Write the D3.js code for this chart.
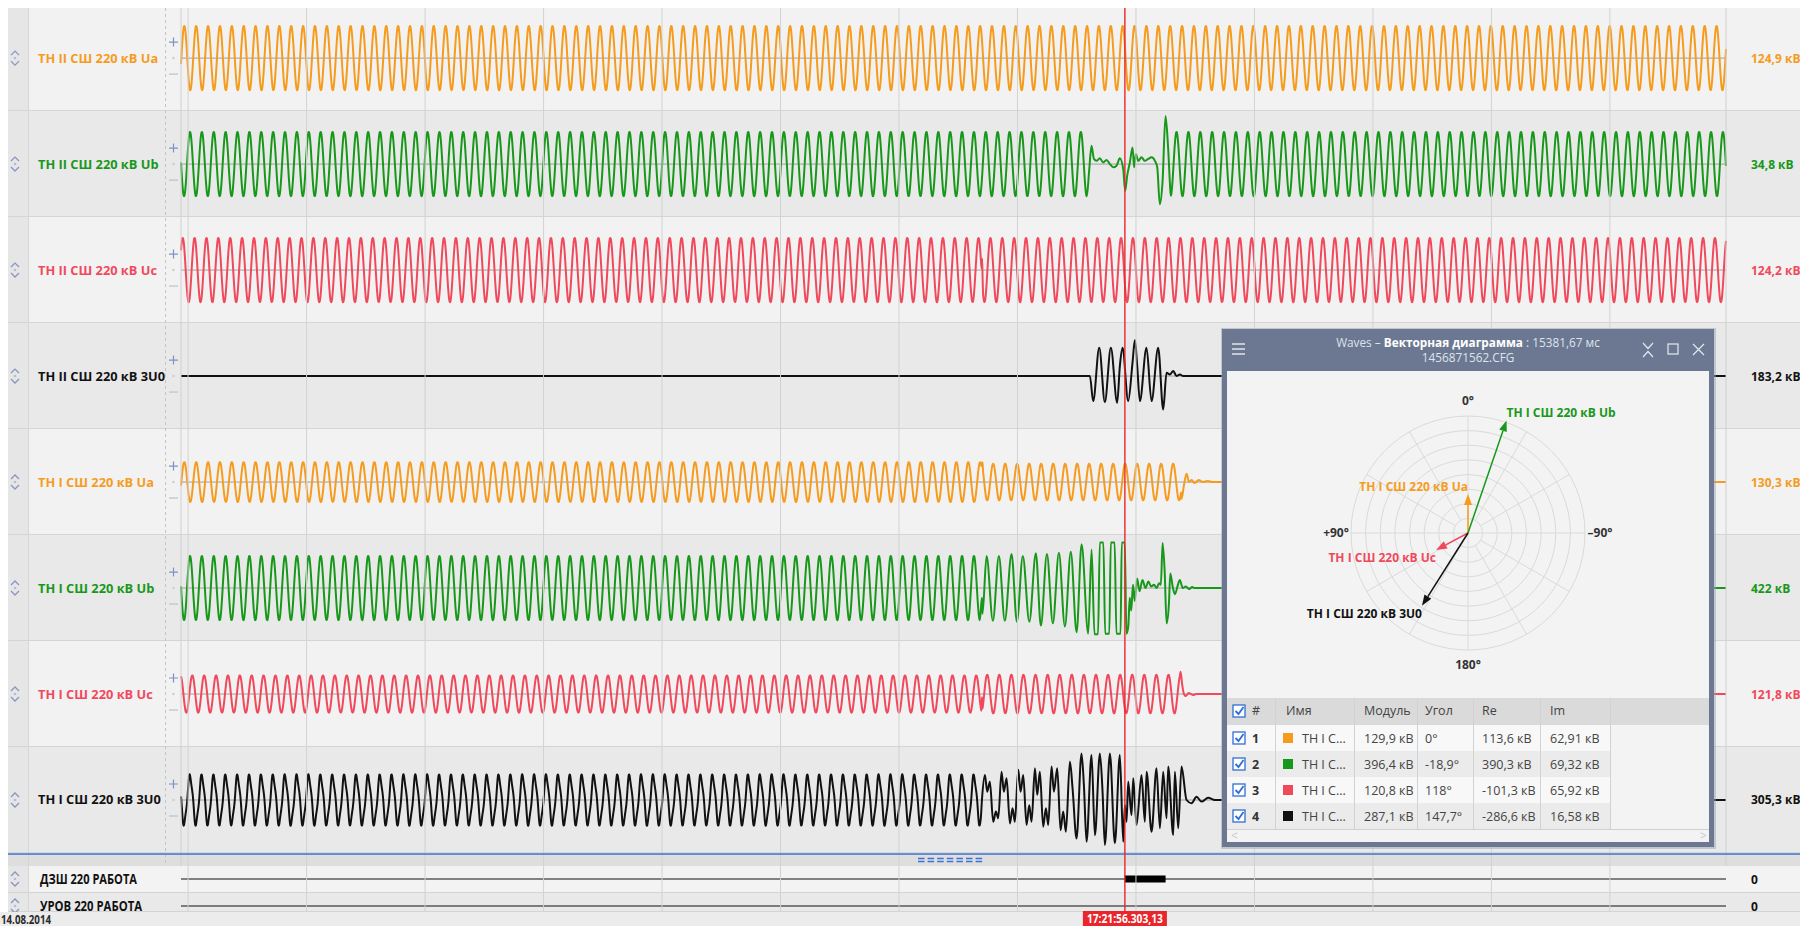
<!DOCTYPE html>
<html>
<head>
<meta charset="utf-8">
<script src="https://cdn.jsdelivr.net/npm/d3@7"></script>
<style>
  body { margin: 0; background: #fff; overflow: hidden; }
  text { font-family: "Open Sans", "Noto Sans", sans-serif; }
</style>
</head>
<body>
<div id="osc"></div>
<script>
// Каналы осциллограммы
var channels = ["ТН II СШ 220 кВ Ua", "ТН II СШ 220 кВ Ub", "ТН II СШ 220 кВ Uc", "ТН II СШ 220 кВ 3U0",
                "ТН I СШ 220 кВ Ua", "ТН I СШ 220 кВ Ub", "ТН I СШ 220 кВ Uc", "ТН I СШ 220 кВ 3U0"];
var channelColors = ["#f59c1e", "#18981b", "#f0495b", "#111111", "#f59c1e", "#18981b", "#f0495b", "#111111"];
var scaleLabels = ["124,9 кВ", "34,8 кВ", "124,2 кВ", "183,2 кВ", "130,3 кВ", "422 кВ", "121,8 кВ", "305,3 кВ"];

// установившиеся участки: [начало мс, конец мс, амплитуда о.е., время максимума мс, период мс, 3-я гармоника]
var steady = [
  [[-12, 2596, 1.0, -6.4, 20.05, 0]],
  [[-12, 1517, 1.0, 3.2, 20.05, 0], [1659, 2596, 1.0, 1668.5, 20.05, 0]],
  [[-12, 1338.5, 1.0, -9.1, 20.05, 0], [1342, 2596, 1.0, -9.1, 20.05, 0]],
  [[-12, 1522, 0, 0, 20, 0], [1680, 2596, 0, 0, 20, 0]],
  [[-12, 1339, 0.62, -6.4, 20.05, 0], [1342, 1676, 0.57, 1359, 20.25, 0], [1730, 2596, 0, 0, 20, 0]],
  [[-12, 1336, 1.0, 3.2, 20.05, 0], [1700, 2596, 0, 0, 20, 0]],
  [[-12, 1339, 0.58, 7.1, 20.05, 0], [1342, 1674, 0.6, 1348.9, 20.4, 0], [1703, 2596, 0, 0, 20, 0]],
  [[-12, 1338, 0.74, 3.2, 20.05, 0.12], [1734, 2596, 0, 0, 20, 0]]
];

// аварийные участки: [время мс, значение о.е.]
var burst = [
  [],
  [[1521, -0.2], [1525, 0.57], [1529, 0.16], [1533.5, 0.1], [1539, 0.18], [1544.7, 0.05], [1550.3, 0.13],
   [1556, 0], [1561.6, -0.1], [1567.2, -0.05], [1572.8, 0.18], [1578.5, -0.16], [1581.8, -0.83],
   [1585.2, -0.36], [1589.7, 0.05], [1594.2, 0.52], [1597, -0.1], [1599.8, 0.31], [1603.8, 0.1],
   [1609.4, 0.21], [1615, 0.1], [1620.7, 0.16], [1626.3, 0.21], [1632, 0.1], [1635.9, -0.1],
   [1640.3, -1.25], [1644.8, -0.57], [1649.9, 1.5], [1654.4, 0.47], [1658.3, -0.88]],
  [[1339.5, 0.05], [1340.3, 0.35], [1341.2, -0.3]],
  [[1522.2, 0], [1527.8, -0.78], [1538, 0.88], [1547.5, -0.81], [1557.6, 0.88], [1568.3, -0.83],
   [1572.8, 0.31], [1577.3, 0.88], [1586.9, -0.78], [1594.2, 0.42], [1598.2, 1.12], [1602.1, 0.31],
   [1606.6, -0.78], [1617.8, 0.88], [1626.3, -0.78], [1637.5, 0.88], [1646, -1.04], [1651.6, 0.1],
   [1657.2, 0.05], [1662.9, 0.16], [1668.5, 0], [1674.1, 0.05], [1679.7, 0]],
  [[1340, 0.5], [1341, 0.62], [1677, -0.52], [1681, -0.1], [1685.5, 0.26], [1689.4, 0], [1694, 0.06],
   [1699, -0.03], [1706, 0.06], [1713, 0], [1721, 0.03], [1729, 0]],
  [[1336.5, -1.0], [1340, -0.3], [1341, -0.8], [1347.8, 1.0], [1358.5, -1.02], [1368.6, 1.0], [1378.6, -1.02],
   [1390, 1.06], [1399, -1.05], [1409, 1.0], [1420, -1.05], [1431, 1.08], [1439.5, -1.17], [1449.7, 1.06],
   [1459.7, -1.1], [1469.9, 1.1], [1480, -1.2], [1490, 1.13], [1499.8, -1.38], [1508.2, 1.36],
   [1519.4, -1.42], [1525.1, 1.2], [1530, -1.44], [1536, -1.44], [1539, 1.42], [1545, 1.42],
   [1548, -1.42], [1555, -1.42], [1557.5, 1.42], [1564, 1.42], [1567, -1.42], [1574, -1.42],
   [1576, 1.42], [1581, 1.42], [1584, -1.42], [1587, -1.2], [1589.5, -0.3], [1592, -0.7], [1595, 0.1],
   [1598, -0.4], [1602, 0.3], [1606, -0.1], [1611, 0.25], [1616, 0], [1621, 0.2], [1625.5, 0.05],
   [1630.5, 0.1], [1635, 0], [1639, 0.15], [1642, 0.1], [1645, 1.4], [1648.5, 0.5], [1651.7, -1.1],
   [1655.6, -0.5], [1658, 0.45], [1662.4, 0], [1665.8, -0.19], [1670.8, 0.1], [1674, 0.25], [1679, 0],
   [1684, 0.05], [1690, -0.03], [1695, 0.03], [1699, 0]],
  [[1340, -0.1], [1341, -0.45], [1675.3, 0.69], [1678, 0.3], [1681, 0], [1684, -0.06], [1689, 0.03],
   [1696, -0.03], [1702, 0]],
  [[1340, 0], [1345, 0.78], [1349, 0.26], [1353.4, 0.57], [1359, -0.68], [1363.6, -0.36], [1367.5, -0.57],
   [1373.1, 0.88], [1377, 0.26], [1381.6, 0.68], [1387.2, -0.73], [1391.7, -0.26], [1395.6, -0.68],
   [1401.3, 0.94], [1405.2, 0.26], [1409.7, 0.78], [1415.3, -0.78], [1419.8, -0.16], [1423.8, -0.68],
   [1429.4, 0.99], [1433.3, 0.16], [1437.8, 0.88], [1443.4, -0.83], [1448, -0.26], [1451.9, -0.78],
   [1457.5, 1.04], [1461.5, 0.26], [1467.1, 0.99], [1472.7, -0.94], [1477.2, -0.36], [1481.7, -0.99],
   [1488.5, 1.2], [1493, 0.36], [1499.7, -1.2], [1508.1, 1.45], [1512.1, 0.47], [1516.6, -1.3],
   [1525, 1.4], [1530.7, -1.1], [1539.1, 1.45], [1543.6, 0.26], [1547.5, -1.4], [1556, 1.45],
   [1564.4, -1.35], [1572.8, 1.4], [1578.5, -1.3], [1581.3, -0.16], [1584.1, -0.68], [1586.9, 0.57],
   [1592.5, -0.47], [1595.4, 0.68], [1601, -0.78], [1609.4, 0.78], [1615, -0.68], [1617.9, 0.88],
   [1626.3, -0.99], [1634.7, 0.99], [1640.4, -0.88], [1646, 0.88], [1651.6, -0.57], [1654.4, 1.04],
   [1662.9, -1.09], [1665.7, 0.88], [1671.3, -0.88], [1676.9, 1.04], [1685.4, 0], [1693.8, -0.1],
   [1702.3, 0.1], [1710.7, -0.05], [1721.9, 0.07], [1733.2, 0]]
];

// дискретные сигналы
var digital = ["ДЗШ 220 РАБОТА", "УРОВ 220 РАБОТА"];
var digitalValues = ["0", "0"];
var digitalOn = [[[1581, 1650]], []];

var cursorTime = 1581.3;
var cursorLabel = "17:21:56.303,13";
var recordDate = "14.08.2014";
var gridTicks = d3.range(0, 2600, 200);

// векторная диаграмма
var vecNames = channels.slice(4);
var vecColors = channelColors.slice(4);
var vecModule = [129.9, 396.4, 120.8, 287.1];
var vecAngle = [0, -18.9, 118, 147.7];
var vecRe = [113.6, 390.3, -101.3, -286.6];
var vecIm = [62.91, 69.32, 65.92, 16.58];
var angleLabels = [[0, "0°"], [-90, "–90°"], [180, "180°"], [90, "+90°"]];
var tableHeader = ["#", "Имя", "Модуль", "Угол", "Re", "Im"];

var W = 1800, H = 926;
var svg = d3.select("#osc").append("svg").attr("width", W).attr("height", H);

var band = d3.scaleBand().domain(d3.range(channels.length)).range([5.1, 853]);
var bh = band.bandwidth();
var x = d3.scaleLinear().domain([-12, 2596]).range([181, 1726]);
var yv = d3.scaleLinear().domain([-1.65, 1.65]).range([bh, 0]);

svg.append("rect").attr("width", W).attr("height", H).attr("fill", "#fff");

// фон строк
var rows = svg.selectAll("g.row").data(channels).enter().append("g")
    .attr("class", "row")
    .attr("transform", function(d, i) { return "translate(0," + band(i) + ")"; });
rows.append("rect").attr("x", 8).attr("width", W - 8).attr("height", bh)
    .attr("fill", function(d, i) { return i % 2 ? "#e9e9e9" : "#f2f2f2"; });
rows.append("rect").attr("x", 8).attr("width", 20).attr("height", bh).attr("fill", "#e6e6e6");
rows.append("line").attr("x1", 8).attr("x2", W).attr("y1", bh - 0.5).attr("y2", bh - 0.5)
    .attr("stroke", "#d4d4d4");

// цифровые строки
var dTop = [866, 893], dH = [27, 19];
var drows = svg.selectAll("g.drow").data(digital).enter().append("g")
    .attr("class", "drow")
    .attr("transform", function(d, i) { return "translate(0," + dTop[i] + ")"; });
drows.append("rect").attr("x", 8).attr("width", W - 8).attr("height", function(d, i) { return dH[i]; })
    .attr("fill", function(d, i) { return i % 2 ? "#e9e9e9" : "#f3f3f3"; });
drows.append("rect").attr("x", 8).attr("width", 20).attr("height", function(d, i) { return dH[i]; }).attr("fill", "#e6e6e6");
drows.append("line").attr("x1", 8).attr("x2", W).attr("y1", function(d, i) { return dH[i] - 0.5; })
    .attr("y2", function(d, i) { return dH[i] - 0.5; }).attr("stroke", "#d4d4d4");

svg.append("rect").attr("x", 8).attr("y", 854).attr("width", W - 8).attr("height", 12).attr("fill", "#dedede");

// вертикальная сетка
svg.append("g").selectAll("line").data(gridTicks).enter().append("line")
    .attr("x1", function(d) { return x(d); }).attr("x2", function(d) { return x(d); })
    .attr("y1", 8).attr("y2", 912).attr("stroke", "#d2d2d2");
[x.range()[0], x.range()[1]].forEach(function(px) {
    svg.append("line").attr("x1", px).attr("x2", px).attr("y1", 8).attr("y2", 866).attr("stroke", "#d0d0d0");
});
svg.append("line").attr("x1", 28.5).attr("x2", 28.5).attr("y1", 8).attr("y2", 912).attr("stroke", "#d6d6d6");
svg.append("line").attr("x1", 165.5).attr("x2", 165.5).attr("y1", 8).attr("y2", 866)
    .attr("stroke", "#c4c4c4").attr("stroke-dasharray", "3,3");

// иконки и подписи каналов
function chevrons(g, cy) {
    g.append("path").attr("d", "M11," + (cy - 3) + "L15," + (cy - 7) + "L19," + (cy - 3) +
        "M11," + (cy + 3) + "L15," + (cy + 7) + "L19," + (cy + 3))
        .attr("fill", "none").attr("stroke", "#8796c0").attr("stroke-width", 1.3);
    g.append("circle").attr("cx", 15).attr("cy", cy).attr("r", 1.3).attr("fill", "#b4bdd6");
}
rows.each(function(d, i) {
    var g = d3.select(this), c = bh / 2;
    chevrons(g, c);
    g.append("text").attr("x", 38).attr("y", c + 4.5).attr("font-size", 12.8).attr("font-weight", "bold")
        .attr("fill", channelColors[i]).text(d);
    g.append("path").attr("d", "M169," + (c - 16) + "h9M173.5," + (c - 20.5) + "v9")
        .attr("stroke", "#7e92c6").attr("stroke-width", 1.2);
    g.append("path").attr("d", "M169," + (c + 16) + "h9").attr("stroke", "#b9c0d2").attr("stroke-width", 1.2);
    g.append("circle").attr("cx", 173.5).attr("cy", c).attr("r", 1.3).attr("fill", "#cfcfcf");
    g.append("line").attr("x1", x.range()[0]).attr("x2", x.range()[1]).attr("y1", yv(0)).attr("y2", yv(0))
        .attr("stroke", "#8a8a8a").attr("stroke-width", 0.8);
    g.append("text").attr("x", 1751).attr("y", c + 4.5).attr("font-size", 12).attr("font-weight", "bold")
        .attr("fill", channelColors[i]).text(scaleLabels[i]);
});

// кривые
function sampleSegment(s) {
    return d3.range(s[0], s[1] + 1e-9, 0.5).map(function(t) {
        var th = 2 * Math.PI * (t - s[3]) / s[4];
        return [t, s[2] * (Math.cos(th) + s[5] * Math.cos(3 * th + 1.2))];
    });
}
var line = d3.line().x(function(d) { return x(d[0]); }).y(function(d) { return yv(d[1]); })
    .curve(d3.curveMonotoneX);
rows.append("path")
    .attr("d", function(d, i) {
        var pts = [];
        steady[i].forEach(function(s) { pts = pts.concat(sampleSegment(s)); });
        pts = pts.concat(burst[i]).sort(function(a, b) { return a[0] - b[0]; });
        return line(pts);
    })
    .attr("fill", "none")
    .attr("stroke", function(d, i) { return channelColors[i]; })
    .attr("stroke-width", 2)
    .attr("stroke-linejoin", "round");

// дискретные сигналы
var dLen = [97, 102];
drows.each(function(d, i) {
    var g = d3.select(this), c = 13;
    chevrons(g, c);
    g.append("text").attr("x", 40).attr("y", c + 4.6).attr("font-size", 13.5)
        .attr("textLength", dLen[i]).attr("lengthAdjust", "spacingAndGlyphs")
        .attr("font-weight", "bold").attr("fill", "#111").text(d);
    g.append("line").attr("x1", x.range()[0]).attr("x2", x.range()[1]).attr("y1", c).attr("y2", c)
        .attr("stroke", "#111").attr("stroke-width", 1.2);
    g.selectAll("rect.on").data(digitalOn[i]).enter().append("rect")
        .attr("x", function(e) { return x(e[0]); })
        .attr("width", function(e) { return x(e[1]) - x(e[0]); })
        .attr("y", c - 3.5).attr("height", 7).attr("fill", "#000");
    g.append("text").attr("x", 1751).attr("y", c + 4.5).attr("font-size", 12).attr("font-weight", "bold")
        .attr("fill", "#111").text(digitalValues[i]);
});

svg.append("line").attr("x1", 8).attr("x2", W).attr("y1", 854).attr("y2", 854)
    .attr("stroke", "#3a6fca").attr("stroke-width", 1.6);
// ручка разделителя
svg.append("g").selectAll("path").data(d3.range(7)).enter().append("path")
    .attr("d", function(k) { var px = 918 + k * 9.6; return "M" + px + ",858.5h6.5M" + px + ",861.5h6.5"; })
    .attr("stroke", "#3d72d2").attr("stroke-width", 1.3);

// верх и левая кромка
svg.append("rect").attr("width", W).attr("height", 8).attr("fill", "#fff");
svg.append("rect").attr("width", 8).attr("height", H).attr("fill", "#fff");

// нижняя полоса
svg.append("rect").attr("y", 912).attr("width", W).attr("height", 14).attr("fill", "#ececec");
svg.append("text").attr("x", 1).attr("y", 923.5).attr("font-size", 12)
    .attr("textLength", 50).attr("lengthAdjust", "spacingAndGlyphs")
    .attr("font-weight", "bold").attr("fill", "#2a2a2a").text(recordDate);

// курсор
var cx0 = x(cursorTime);
svg.append("line").attr("x1", cx0).attr("x2", cx0).attr("y1", 8).attr("y2", 912)
    .attr("stroke", "#e8262c").attr("stroke-width", 1.4);
svg.append("rect").attr("x", cx0 - 42).attr("y", 911).attr("width", 84).attr("height", 15).attr("fill", "#e8262c");
svg.append("text").attr("x", cx0).attr("y", 923).attr("text-anchor", "middle")
    .attr("textLength", 76).attr("lengthAdjust", "spacingAndGlyphs")
    .attr("font-size", 11.5).attr("font-weight", "bold").attr("fill", "#fff").text(cursorLabel);

// окно векторной диаграммы
var win = svg.append("g");
var wx0 = 1222, wy0 = 329, wx1 = 1714, wy1 = 847;
win.append("rect").attr("x", wx0 - 1).attr("y", wy0 - 1).attr("width", wx1 - wx0 + 3).attr("height", wy1 - wy0 + 3)
    .attr("fill", "#9aa3b5").attr("opacity", 0.5);
win.append("rect").attr("x", wx0).attr("y", wy0).attr("width", wx1 - wx0).attr("height", wy1 - wy0).attr("fill", "#6c7892");
win.append("rect").attr("x", wx0 + 5).attr("y", 371).attr("width", wx1 - wx0 - 10).attr("height", wy1 - 5 - 371)
    .attr("fill", "#f3f3f3");

var title = win.append("text").attr("x", 1468).attr("y", 347).attr("text-anchor", "middle")
    .attr("font-size", 11.8).attr("fill", "#dfe3ec");
title.append("tspan").text("Waves – ");
title.append("tspan").attr("font-weight", "bold").attr("fill", "#fff").text("Векторная диаграмма");
title.append("tspan").text(" : 15381,67 мс");
win.append("text").attr("x", 1468).attr("y", 362).attr("text-anchor", "middle")
    .attr("font-size", 11.8).attr("fill", "#dfe3ec").text("1456871562.CFG");
win.append("path").attr("d", "M1232,344h13M1232,349h13M1232,354h13").attr("stroke", "#dfe3ec").attr("stroke-width", 1.3);
win.append("path").attr("d", "M1643,343L1648,348.5L1653,343M1643,357L1648,351.5L1653,357")
    .attr("fill", "none").attr("stroke", "#e6e9f0").attr("stroke-width", 1.2);
win.append("rect").attr("x", 1668).attr("y", 344).attr("width", 10).attr("height", 10)
    .attr("fill", "none").attr("stroke", "#e6e9f0").attr("stroke-width", 1.2);
win.append("path").attr("d", "M1693,344L1704,355M1704,344L1693,355").attr("stroke", "#e6e9f0").attr("stroke-width", 1.2);

// полярная сетка
var outerR = 117;
var polar = win.append("g").attr("transform", "translate(1468,533)");
function pt(r, a) { var rad = a * Math.PI / 180; return [-r * Math.sin(rad), -r * Math.cos(rad)]; }
polar.selectAll("circle").data(d3.range(1, 9)).enter().append("circle")
    .attr("r", function(k) { return outerR * k / 8; }).attr("fill", "none").attr("stroke", "#dadada");
polar.selectAll("line.spoke").data(d3.range(0, 360, 30)).enter().append("line")
    .attr("x1", function(a) { return pt(a % 90 ? outerR / 8 : 0, a)[0]; })
    .attr("y1", function(a) { return pt(a % 90 ? outerR / 8 : 0, a)[1]; })
    .attr("x2", function(a) { return pt(outerR, a)[0]; })
    .attr("y2", function(a) { return pt(outerR, a)[1]; })
    .attr("stroke", "#dadada");
polar.selectAll("text.ang").data(angleLabels).enter().append("text")
    .attr("x", function(d) { return pt(132, d[0])[0]; })
    .attr("y", function(d) { return pt(132, d[0])[1] + 4; })
    .attr("text-anchor", "middle").attr("font-size", 12).attr("font-weight", "bold").attr("fill", "#333")
    .text(function(d) { return d[1]; });

var rScale = d3.scaleLinear().domain([0, d3.max(vecModule)]).range([0, 119]);
vecModule.forEach(function(m, i) {
    var a = vecAngle[i], tip = pt(rScale(m), a), u = pt(1, a), n = [-u[1], u[0]];
    var base = [tip[0] - u[0] * 11, tip[1] - u[1] * 11];
    polar.append("line").attr("x1", 0).attr("y1", 0).attr("x2", base[0]).attr("y2", base[1])
        .attr("stroke", vecColors[i]).attr("stroke-width", 1.5);
    polar.append("path").attr("d", "M" + tip + "L" + [base[0] + n[0] * 4, base[1] + n[1] * 4] +
        "L" + [base[0] - n[0] * 4, base[1] - n[1] * 4] + "Z").attr("fill", vecColors[i]);
    polar.append("text").attr("x", tip[0]).attr("y", tip[1] < 0 ? tip[1] - 3 : tip[1] + 12)
        .attr("text-anchor", a >= 0 ? "end" : "start").attr("font-size", 12).attr("font-weight", "bold")
        .attr("fill", vecColors[i]).text(vecNames[i]);
});

// таблица
var colX = [1275, 1354, 1417, 1473, 1540, 1610];
var textX = [1252, 1286, 1364, 1425, 1482, 1550];
win.append("rect").attr("x", 1227).attr("y", 698).attr("width", 482).attr("height", 27).attr("fill", "#dadada");
var rowsT = win.selectAll("g.trow").data(vecModule).enter().append("g")
    .attr("transform", function(d, i) { return "translate(0," + (725 + i * 26) + ")"; });
rowsT.append("rect").attr("x", 1227).attr("width", colX[5] - 1227).attr("height", 26)
    .attr("fill", function(d, i) { return i % 2 ? "#ebebeb" : "#f8f8f8"; });
win.append("line").attr("x1", 1227).attr("x2", 1709).attr("y1", 829.5).attr("y2", 829.5).attr("stroke", "#d0d0d0");
win.selectAll("line.col").data(colX).enter().append("line")
    .attr("x1", function(d) { return d + 0.5; }).attr("x2", function(d) { return d + 0.5; })
    .attr("y1", 698).attr("y2", 829).attr("stroke", "#d2d2d2");
function checkbox(g, y) {
    g.append("rect").attr("x", 1233).attr("y", y - 6).attr("width", 12).attr("height", 12)
        .attr("fill", "#fff").attr("stroke", "#2f6fd6").attr("stroke-width", 1.3);
    g.append("path").attr("d", "M1235.5," + y + "L1238.5," + (y + 3) + "L1243.5," + (y - 4))
        .attr("fill", "none").attr("stroke", "#2f6fd6").attr("stroke-width", 1.8);
}
checkbox(win, 711);
win.selectAll("text.head").data(tableHeader).enter().append("text")
    .attr("x", function(d, i) { return textX[i]; }).attr("y", 715)
    .attr("font-size", 12.5).attr("fill", "#444").text(function(d) { return d; });
function fmt(v) { return String(v).replace(".", ","); }
rowsT.each(function(m, i) {
    var g = d3.select(this);
    checkbox(g, 13);
    g.append("text").attr("x", 1252).attr("y", 17.5).attr("font-size", 12.5).attr("font-weight", "bold")
        .attr("fill", "#333").text(i + 1);
    g.append("rect").attr("x", 1283).attr("y", 8).attr("width", 10).attr("height", 10).attr("fill", vecColors[i]);
    var cells = [vecNames[i].slice(0, 6) + "...", fmt(m) + " кВ", fmt(vecAngle[i]) + "°",
                 fmt(vecRe[i]) + " кВ", fmt(vecIm[i]) + " кВ"];
    var cx = [1302, 1364, 1425, 1482, 1550];
    cells.forEach(function(s, k) {
        g.append("text").attr("x", cx[k]).attr("y", 17.5).attr("font-size", 12.5).attr("fill", "#444").text(s);
    });
});
win.append("text").attr("x", 1231).attr("y", 840).attr("font-size", 12).attr("fill", "#c8c8c8").text("<");
win.append("text").attr("x", 1700).attr("y", 840).attr("font-size", 12).attr("fill", "#c8c8c8").text(">");
</script>
</body>
</html>
